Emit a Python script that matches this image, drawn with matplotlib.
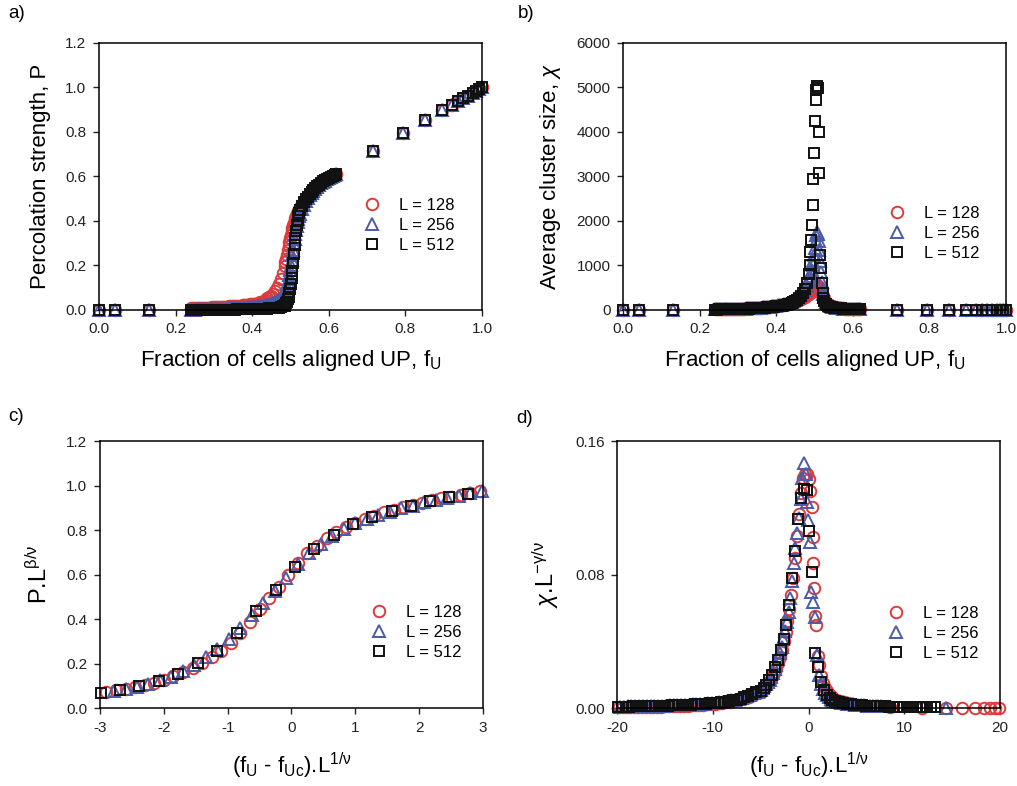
import matplotlib.pyplot as plt

plt.rcParams['font.family'] = ['Liberation Sans', 'DejaVu Sans']
plt.rcParams['mathtext.fontset'] = 'custom'
plt.rcParams['mathtext.rm'] = 'Liberation Sans'
plt.rcParams['mathtext.it'] = 'Liberation Sans:italic'

labels = ['L = 128', 'L = 256', 'L = 512']
colors = ['#dc3b3b', '#4a5ba8', '#111111']
markers = ['o', '^', 's']
msizes = [8.3, 8.5, 7.2]

# ---- raw data: fraction of UP cells f_U ----
f_low = [0.000, 0.042, 0.131]
f_dense = [0.240, 0.245, 0.250, 0.255, 0.260, 0.265, 0.270, 0.275, 0.280, 0.285,
           0.290, 0.295, 0.300, 0.305, 0.310, 0.315, 0.320, 0.325, 0.330, 0.335,
           0.340, 0.345, 0.350, 0.355, 0.360, 0.365, 0.370, 0.375, 0.380, 0.385,
           0.390, 0.395, 0.400, 0.405, 0.410, 0.415, 0.420, 0.425, 0.430, 0.435,
           0.440, 0.445, 0.450, 0.455, 0.460, 0.465, 0.470, 0.475, 0.480, 0.485,
           0.487, 0.489, 0.491, 0.493, 0.495, 0.497, 0.499, 0.501, 0.503, 0.505,
           0.507, 0.509, 0.511, 0.513, 0.515, 0.517, 0.519, 0.521, 0.523, 0.525,
           0.530, 0.535, 0.540, 0.545, 0.550, 0.555, 0.560, 0.565, 0.570, 0.575,
           0.580, 0.585, 0.590, 0.595, 0.600, 0.605, 0.610, 0.615, 0.620]
f_high = [0.716, 0.793, 0.851, 0.895, 0.921, 0.937, 0.951, 0.964, 0.976, 0.985, 0.993, 1.000]

# percolation strength P
P_low = [0.0, 0.0, 0.0]
P_high = [0.715, 0.795, 0.853, 0.897, 0.922, 0.938, 0.951, 0.964, 0.976, 0.985, 0.993, 1.000]
P_128 = [0.008, 0.008, 0.009, 0.009, 0.009, 0.010, 0.010, 0.010, 0.011, 0.011,
         0.011, 0.012, 0.012, 0.012, 0.013, 0.013, 0.014, 0.014, 0.015, 0.015,
         0.016, 0.016, 0.017, 0.018, 0.018, 0.019, 0.020, 0.021, 0.022, 0.023,
         0.024, 0.025, 0.026, 0.027, 0.029, 0.032, 0.035, 0.038, 0.042, 0.047,
         0.052, 0.058, 0.065, 0.074, 0.085, 0.099, 0.116, 0.138, 0.165, 0.198,
         0.214, 0.231, 0.249, 0.268, 0.287, 0.305, 0.322, 0.338, 0.353, 0.367,
         0.380, 0.392, 0.403, 0.413, 0.422, 0.431, 0.439, 0.447, 0.454, 0.461,
         0.476, 0.490, 0.502, 0.513, 0.523, 0.533, 0.542, 0.550, 0.558, 0.565,
         0.572, 0.578, 0.584, 0.589, 0.594, 0.599, 0.603, 0.607, 0.611]
P_256 = [0.002, 0.002, 0.002, 0.003, 0.003, 0.003, 0.003, 0.003, 0.004, 0.004,
         0.004, 0.004, 0.004, 0.005, 0.005, 0.005, 0.005, 0.006, 0.006, 0.006,
         0.007, 0.007, 0.007, 0.008, 0.008, 0.009, 0.009, 0.010, 0.010, 0.011,
         0.012, 0.012, 0.013, 0.014, 0.015, 0.016, 0.017, 0.018, 0.020, 0.022,
         0.024, 0.026, 0.029, 0.032, 0.036, 0.041, 0.047, 0.055, 0.066, 0.080,
         0.088, 0.098, 0.110, 0.124, 0.140, 0.158, 0.178, 0.200, 0.223, 0.247,
         0.271, 0.295, 0.318, 0.340, 0.360, 0.378, 0.394, 0.408, 0.421, 0.432,
         0.455, 0.474, 0.490, 0.504, 0.516, 0.527, 0.537, 0.546, 0.554, 0.562,
         0.569, 0.576, 0.582, 0.588, 0.593, 0.598, 0.602, 0.606, 0.610]
P_512 = [0.000, 0.000, 0.000, 0.001, 0.001, 0.001, 0.001, 0.001, 0.001, 0.001,
         0.001, 0.001, 0.001, 0.001, 0.001, 0.001, 0.001, 0.002, 0.002, 0.002,
         0.002, 0.002, 0.002, 0.002, 0.003, 0.003, 0.003, 0.003, 0.003, 0.003,
         0.004, 0.004, 0.004, 0.004, 0.004, 0.004, 0.005, 0.005, 0.005, 0.006,
         0.006, 0.007, 0.007, 0.008, 0.009, 0.010, 0.011, 0.013, 0.016, 0.020,
         0.024, 0.030, 0.038, 0.048, 0.060, 0.075, 0.095, 0.118, 0.145, 0.175,
         0.210, 0.250, 0.290, 0.325, 0.355, 0.382, 0.405, 0.423, 0.438, 0.450,
         0.468, 0.484, 0.498, 0.510, 0.521, 0.531, 0.540, 0.549, 0.557, 0.564,
         0.571, 0.578, 0.584, 0.589, 0.594, 0.599, 0.603, 0.607, 0.611]

# average cluster size chi
chi_low = [0, 0, 0]
chi_high = [2, 1, 1, 0, 0, 0, 0, 0, 0, 0, 0, 0]
chi_128 = [14, 15, 16, 17, 18, 19, 20, 21, 22, 23,
           25, 26, 28, 29, 31, 33, 35, 37, 39, 41,
           44, 46, 49, 52, 55, 58, 62, 66, 70, 75,
           80, 85, 91, 97, 104, 111, 119, 128, 138, 149,
           161, 175, 190, 207, 226, 248, 272, 300, 332, 368,
           385, 405, 425, 450, 475, 500, 525, 545, 560, 565,
           555, 535, 505, 470, 430, 390, 350, 310, 275, 245,
           180, 135, 105, 85, 70, 59, 51, 44, 39, 35,
           31, 28, 26, 24, 22, 20, 19, 18, 17]
chi_256 = [12, 13, 14, 15, 16, 17, 18, 19, 20, 21,
           23, 24, 26, 27, 29, 31, 33, 35, 37, 40,
           42, 45, 48, 51, 55, 59, 63, 68, 73, 78,
           84, 90, 97, 105, 113, 122, 132, 144, 157, 172,
           190, 210, 234, 262, 296, 338, 390, 455, 540, 650,
           700, 760, 830, 910, 1000, 1110, 1240, 1390, 1550, 1690,
           1750, 1700, 1560, 1350, 1100, 850, 640, 480, 370, 290,
           180, 125, 95, 76, 62, 52, 45, 40, 35, 32,
           29, 27, 25, 23, 21, 20, 19, 18, 17]
chi_512 = [10, 11, 12, 13, 14, 15, 16, 17, 18, 19,
           20, 21, 22, 24, 25, 27, 29, 31, 33, 35,
           37, 39, 41, 44, 47, 50, 53, 57, 61, 65,
           70, 75, 80, 86, 93, 100, 108, 118, 129, 142,
           158, 176, 198, 226, 262, 310, 375, 470, 610, 820,
           1000, 1310, 1580, 1910, 2360, 2940, 3520, 4250, 4720, 4950,
           5030, 4990, 4000, 3080, 1240, 940, 600, 380, 270, 200,
           130, 95, 75, 62, 53, 46, 41, 37, 34, 31,
           29, 27, 25, 23, 22, 21, 20, 19, 18]

# ---- scaled data, P.L^(beta/nu) vs (f_U - f_Uc).L^(1/nu) ----
c_x_128 = [-2.90, -2.75, -2.60, -2.45, -2.30, -2.15, -2.00, -1.85, -1.70, -1.55,
           -1.40, -1.25, -1.10, -0.95, -0.80, -0.65, -0.50, -0.35, -0.20, -0.05,
           0.10, 0.25, 0.40, 0.55, 0.70, 0.85, 1.00, 1.15, 1.30, 1.45,
           1.60, 1.75, 1.90, 2.05, 2.20, 2.35, 2.50, 2.65, 2.80, 2.95]
c_y_128 = [0.072, 0.080, 0.086, 0.094, 0.103, 0.114, 0.128, 0.143, 0.160, 0.180,
           0.203, 0.230, 0.258, 0.292, 0.335, 0.385, 0.445, 0.495, 0.545, 0.600,
           0.650, 0.695, 0.730, 0.762, 0.790, 0.812, 0.832, 0.850, 0.865, 0.879,
           0.892, 0.903, 0.913, 0.923, 0.933, 0.942, 0.950, 0.958, 0.966, 0.975]
c_x_256 = [-2.78, -2.60, -2.42, -2.24, -2.06, -1.88, -1.70, -1.52, -1.34, -1.16,
           -0.98, -0.80, -0.62, -0.44, -0.26, -0.08, 0.10, 0.28, 0.46, 0.64,
           0.82, 1.00, 1.18, 1.36, 1.54, 1.72, 1.90, 2.08, 2.26, 2.44,
           2.62, 2.80, 2.98]
c_y_256 = [0.078, 0.086, 0.096, 0.108, 0.124, 0.141, 0.165, 0.195, 0.228, 0.265,
           0.310, 0.360, 0.418, 0.473, 0.528, 0.585, 0.646, 0.696, 0.736, 0.773,
           0.805, 0.830, 0.850, 0.867, 0.883, 0.897, 0.909, 0.924, 0.936, 0.946,
           0.955, 0.965, 0.975]
c_x_512 = [-2.99, -2.69, -2.39, -2.08, -1.77, -1.46, -1.16, -0.85, -0.55, -0.25,
           0.05, 0.36, 0.66, 0.96, 1.26, 1.57, 1.87, 2.17, 2.47, 2.77]
c_y_512 = [0.067, 0.081, 0.097, 0.122, 0.152, 0.202, 0.257, 0.336, 0.436, 0.531,
           0.632, 0.713, 0.777, 0.826, 0.858, 0.886, 0.907, 0.931, 0.947, 0.964]

# ---- scaled data, chi.L^(-gamma/nu) vs (f_U - f_Uc).L^(1/nu) ----
d_x_128 = [-19.8, -19.4, -19.0, -18.6, -18.2, -17.8, -17.4, -17.0, -16.6, -16.2,
           -15.8, -15.4, -15.0, -14.6, -14.2, -13.8, -13.4, -13.0, -12.6, -12.2,
           -11.8, -11.4, -11.0, -10.6, -10.2, -9.8, -9.4, -9.0, -8.6, -8.2,
           -7.8, -7.4, -7.0, -6.6, -6.2, -5.8, -5.4,
           -5.0, -4.8, -4.6, -4.4, -4.2, -4.0, -3.8, -3.6, -3.4, -3.2,
           -3.0, -2.8, -2.6, -2.4, -2.2, -2.0, -1.8, -1.6, -1.4, -1.2,
           -1.0, -0.8, -0.6, -0.4, -0.2, 0.0, 0.2, 0.35, 0.45, 0.5,
           0.6, 0.7, 0.8, 1.0, 1.1, 1.3, 1.5, 1.7, 1.9, 2.1,
           2.3, 2.5, 2.7, 2.9, 3.1, 3.3, 3.5, 3.7, 3.9, 4.1,
           4.3, 4.5,
           8.5, 11.8, 14.4, 16.0, 17.4, 18.3, 19.0, 19.5, 19.85]
d_y_128 = [0.0005, 0.0005, 0.0006, 0.0006, 0.0006, 0.0007, 0.0007, 0.0007, 0.0008, 0.0008,
           0.0009, 0.0009, 0.0010, 0.0010, 0.0011, 0.0012, 0.0013, 0.0014, 0.0015, 0.0016,
           0.0017, 0.0019, 0.0020, 0.0022, 0.0024, 0.0026, 0.0029, 0.0032, 0.0035, 0.0039,
           0.0043, 0.0048, 0.0054, 0.0061, 0.0069, 0.0078, 0.0088,
           0.0098, 0.0107, 0.0118, 0.0131, 0.0146, 0.0163, 0.0183, 0.0207, 0.0235, 0.0268,
           0.0305, 0.0350, 0.0400, 0.0455, 0.0520, 0.0595, 0.0680, 0.0780, 0.0900, 0.1030,
           0.1160, 0.1290, 0.1380, 0.1405, 0.1400, 0.1370, 0.1300, 0.1205, 0.1026, 0.0867,
           0.0717, 0.0550, 0.0500, 0.0310, 0.0260, 0.0190, 0.0150, 0.0120, 0.0100, 0.0085,
           0.0073, 0.0064, 0.0056, 0.0050, 0.0045, 0.0041, 0.0037, 0.0034, 0.0031, 0.0029,
           0.0027, 0.0025,
           0.0004, 0.0003, 0.0002, 0.0001, 0.0001, 0.0000, 0.0000, 0.0000, 0.0000]
d_x_256 = [-19.7, -19.3, -18.9, -18.5, -18.1, -17.7, -17.3, -16.9, -16.5, -16.1,
           -15.7, -15.3, -14.9, -14.5, -14.1, -13.7, -13.3, -12.9, -12.5, -12.1,
           -11.7, -11.3, -10.9, -10.5, -10.1, -9.7, -9.3, -8.9, -8.5, -8.1,
           -7.7, -7.3, -6.9, -6.5, -6.1, -5.7, -5.3,
           -5.15, -4.97, -4.79, -4.61, -4.43, -4.25, -4.07, -3.89, -3.71, -3.53,
           -3.35, -3.17, -2.99, -2.81, -2.63, -2.45, -2.27, -2.09, -1.91, -1.73,
           -1.55, -1.37, -1.19, -1.01, -0.83, -0.65, -0.47, -0.29, -0.125, -0.02,
           0.16, 0.26, 0.44, 0.68, 0.90, 1.10, 1.30, 1.50, 1.70, 1.90,
           2.10, 2.30, 2.50, 2.70, 2.90,
           3.1, 3.4, 3.7, 4.0, 4.3, 4.6, 4.9, 5.2, 5.5, 5.8,
           6.1, 6.4, 6.7, 7.0, 7.3, 7.6,
           14.4]
d_y_256 = [0.0009, 0.0009, 0.0010, 0.0010, 0.0011, 0.0011, 0.0012, 0.0012, 0.0013, 0.0013,
           0.0014, 0.0015, 0.0015, 0.0016, 0.0017, 0.0018, 0.0019, 0.0020, 0.0021, 0.0023,
           0.0024, 0.0026, 0.0027, 0.0029, 0.0031, 0.0033, 0.0036, 0.0039, 0.0042, 0.0046,
           0.0050, 0.0055, 0.0062, 0.0070, 0.0079, 0.0090, 0.0098,
           0.0104, 0.0111, 0.0120, 0.0130, 0.0141, 0.0154, 0.0169, 0.0187, 0.0208, 0.0233,
           0.0260, 0.0292, 0.0328, 0.0368, 0.0412, 0.0460, 0.0515, 0.0578, 0.0660, 0.0760,
           0.0870, 0.0960, 0.1050, 0.1140, 0.1250, 0.1380, 0.1468, 0.1400, 0.1236, 0.1127,
           0.0997, 0.0697, 0.0637, 0.0547, 0.0320, 0.0200, 0.0145, 0.0112, 0.0090, 0.0076,
           0.0065, 0.0057, 0.0050, 0.0045, 0.0040,
           0.0036, 0.0032, 0.0029, 0.0026, 0.0024, 0.0022, 0.0020, 0.0018, 0.0017, 0.0016,
           0.0015, 0.0014, 0.0013, 0.0012, 0.0012, 0.0011,
           0.0003]
d_x_512 = [-19.9, -19.5, -19.1, -18.7, -18.3, -17.9, -17.5, -17.1, -16.7, -16.3,
           -15.9, -15.5, -15.1, -14.7, -14.3, -13.9, -13.5, -13.1, -12.7, -12.3,
           -11.9, -11.5, -11.1, -10.7, -10.3, -9.9, -9.5, -9.1, -8.7, -8.3,
           -7.9, -7.5, -7.1, -6.7, -6.3, -5.9, -5.5,
           -5.0, -4.7, -4.4, -4.1, -3.8, -3.5, -3.2, -2.9, -2.6, -2.3,
           -2.0, -1.7, -1.4, -1.1, -0.8, -0.5, -0.2, 0.1, 0.4, 0.7,
           1.0, 1.3, 1.6, 1.9, 2.2, 2.5, 2.8,
           3.2, 3.6, 4.0, 4.4, 4.8, 5.2, 5.6, 6.0, 6.4, 6.8,
           7.2, 7.6, 8.0, 8.4, 8.8, 9.2, 9.6, 10.0, 10.4, 10.8,
           11.2, 11.6, 12.0, 12.4, 12.8, 13.2]
d_y_512 = [0.0008, 0.0008, 0.0009, 0.0009, 0.0010, 0.0010, 0.0011, 0.0011, 0.0012, 0.0012,
           0.0013, 0.0014, 0.0014, 0.0015, 0.0016, 0.0017, 0.0018, 0.0019, 0.0020, 0.0021,
           0.0023, 0.0024, 0.0026, 0.0027, 0.0029, 0.0031, 0.0033, 0.0036, 0.0039, 0.0042,
           0.0046, 0.0051, 0.0057, 0.0064, 0.0072, 0.0082, 0.0094,
           0.0105, 0.0118, 0.0140, 0.0165, 0.0200, 0.0245, 0.0290, 0.0350, 0.0415, 0.0500,
           0.0620, 0.0780, 0.0940, 0.1130, 0.1257, 0.1310, 0.1305, 0.1063, 0.0817, 0.0332,
           0.0244, 0.0158, 0.0110, 0.0080, 0.0062, 0.0050, 0.0042,
           0.0036, 0.0031, 0.0027, 0.0024, 0.0021, 0.0019, 0.0017, 0.0015, 0.0014, 0.0013,
           0.0012, 0.0011, 0.0010, 0.0009, 0.0009, 0.0008, 0.0008, 0.0007, 0.0007, 0.0006,
           0.0006, 0.0006, 0.0005, 0.0005, 0.0005, 0.0005]

# ---- tick labels ----
frac_ticks = [0.0, 0.2, 0.4, 0.6, 0.8, 1.0]
frac_ticklabels = ['0.0', '0.2', '0.4', '0.6', '0.8', '1.0']
p_ticks = [0.0, 0.2, 0.4, 0.6, 0.8, 1.0, 1.2]
p_ticklabels = ['0.0', '0.2', '0.4', '0.6', '0.8', '1.0', '1.2']
chi_ticks = [0, 1000, 2000, 3000, 4000, 5000, 6000]
chi_ticklabels = ['0', '1000', '2000', '3000', '4000', '5000', '6000']
c_xticks = [-3, -2, -1, 0, 1, 2, 3]
c_xticklabels = ['-3', '-2', '-1', '0', '1', '2', '3']
d_xticks = [-20, -10, 0, 10, 20]
d_xticklabels = ['-20', '-10', '0', '10', '20']
d_yticks = [0.0, 0.08, 0.16]
d_yticklabels = ['0.00', '0.08', '0.16']

f_all = f_low + f_dense + f_high
P_series = [P_low + P_128 + P_high, P_low + P_256 + P_high, P_low + P_512 + P_high]
chi_series = [chi_low + chi_128 + chi_high, chi_low + chi_256 + chi_high,
              chi_low + chi_512 + chi_high]
c_series = [(c_x_128, c_y_128), (c_x_256, c_y_256), (c_x_512, c_y_512)]
d_series = [(d_x_128, d_y_128), (d_x_256, d_y_256), (d_x_512, d_y_512)]


def draw(ax, series, legend_anchor):
    for (x, y), lab, col, mk, ms in zip(series, labels, colors, markers, msizes):
        ax.plot(x, y, ls='none', marker=mk, ms=ms, mfc='none', mec=col, mew=1.4,
                clip_on=False, label=lab)
    ax.legend(loc='center left', bbox_to_anchor=legend_anchor, frameon=False,
              fontsize=12, handlelength=1.0, handletextpad=1.1, labelspacing=0.3,
              borderpad=0, borderaxespad=0)


def style(ax, xlim, ylim, xt, xtl, yt, ytl):
    ax.set_xlim(xlim)
    ax.set_ylim(ylim)
    ax.set_xticks(xt)
    ax.set_xticklabels(xtl)
    ax.set_yticks(yt)
    ax.set_yticklabels(ytl)
    ax.tick_params(direction='out', length=4, width=1, labelsize=11, pad=5,
                   colors='#222222')
    for s in ax.spines.values():
        s.set_linewidth(1.1)


fig = plt.figure(figsize=(10.17, 7.86), dpi=100)
ax_a = fig.add_axes([0.0973, 0.6056, 0.3766, 0.3397])
ax_b = fig.add_axes([0.6126, 0.6056, 0.3766, 0.3397])
ax_c = fig.add_axes([0.0983, 0.0992, 0.3766, 0.3397])
ax_d = fig.add_axes([0.6067, 0.0992, 0.3766, 0.3397])

# a) percolation strength
draw(ax_a, [(f_all, p) for p in P_series], (0.692, 0.318))
style(ax_a, (0, 1), (0, 1.2), frac_ticks, frac_ticklabels, p_ticks, p_ticklabels)
ax_a.set_xlabel('Fraction of cells aligned UP, f$_\\mathregular{U}$', fontsize=16, labelpad=8)
ax_a.set_ylabel('Percolation strength, P', fontsize=16, labelpad=10)

# b) average cluster size
draw(ax_b, [(f_all, c) for c in chi_series], (0.694, 0.287))
style(ax_b, (0, 1), (0, 6000), frac_ticks, frac_ticklabels, chi_ticks, chi_ticklabels)
ax_b.set_xlabel('Fraction of cells aligned UP, f$_\\mathregular{U}$', fontsize=16, labelpad=8)
ax_b.set_ylabel('Average cluster size, $\\chi$', fontsize=16, labelpad=10)

# c) scaling collapse of P
draw(ax_c, c_series, (0.708, 0.282))
style(ax_c, (-3, 3), (0, 1.2), c_xticks, c_xticklabels, p_ticks, p_ticklabels)
ax_c.set_xlabel('(f$_\\mathregular{U}$ - f$_\\mathregular{Uc}$).L$^\\mathregular{1/ν}$',
                fontsize=16, labelpad=12)
ax_c.set_ylabel('P.L$^\\mathregular{β/ν}$', fontsize=17, labelpad=10)

# d) scaling collapse of chi
draw(ax_d, d_series, (0.707, 0.280))
style(ax_d, (-20, 20), (0, 0.16), d_xticks, d_xticklabels, d_yticks, d_yticklabels)
ax_d.set_xlabel('(f$_\\mathregular{U}$ - f$_\\mathregular{Uc}$).L$^\\mathregular{1/ν}$',
                fontsize=16, labelpad=12)
ax_d.set_ylabel('$\\chi$.L$^\\mathregular{\u2212γ/ν}$', fontsize=17, labelpad=10)

for txt, x, y in [('a)', 0.008, 0.983), ('b)', 0.509, 0.983),
                  ('c)', 0.008, 0.4695), ('d)', 0.508, 0.468)]:
    fig.text(x, y, txt, fontsize=13.5, ha='left', va='center')

fig.savefig('out.png', dpi=100)
